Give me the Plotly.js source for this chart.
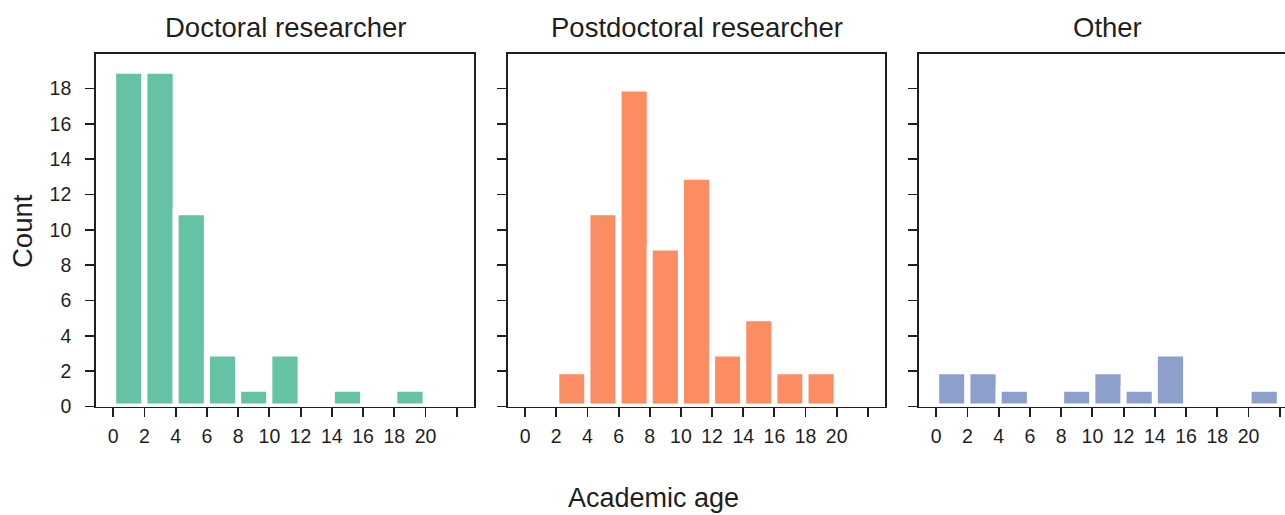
<!DOCTYPE html>
<html>
<head>
<meta charset="utf-8">
<script src="https://cdn.plot.ly/plotly-3.0.1.min.js"></script>
<style>
  html, body { margin: 0; padding: 0; background: #fff; overflow: hidden; }
  #chart { width: 1285px; height: 515px; }
</style>
</head>
<body>
<div id="chart"></div>
<script>
// ---- data ----
var panelTitles = ["Doctoral researcher", "Postdoctoral researcher", "Other"];
var binStarts = [0, 2, 4, 6, 8, 10, 12, 14, 16, 18, 20];
var binWidth = 2;
var doctoralCounts = [19, 19, 11, 3, 1, 3, 0, 1, 0, 1, 0];
var postdocCounts  = [0, 2, 11, 18, 9, 13, 3, 5, 2, 2, 0];
var otherCounts    = [2, 2, 1, 0, 1, 2, 1, 3, 0, 0, 1];
var xTickVals = [0, 2, 4, 6, 8, 10, 12, 14, 16, 18, 20, 22];
var xTickText = ["0", "2", "4", "6", "8", "10", "12", "14", "16", "18", "20", ""];
var yTickVals = [0, 2, 4, 6, 8, 10, 12, 14, 16, 18];
var colors = ["#66c2a5", "#fc8d62", "#8da0cb"];
var seriesCounts = [doctoralCounts, postdocCounts, otherCounts];

var W = 1285, H = 515;
var FONT = "Liberation Sans, Arial, sans-serif";
var INK = "#1f1f1f";

var traces = seriesCounts.map(function (counts, i) {
  var sfx = i === 0 ? "" : String(i + 1);
  return {
    type: "bar",
    x: binStarts.map(function (s) { return s + binWidth / 2; }),
    y: counts,
    width: binWidth,
    xaxis: "x" + sfx,
    yaxis: "y" + sfx,
    marker: { color: colors[i], line: { color: "#ffffff", width: 6 } },
    hoverinfo: "x+y",
    showlegend: false
  };
});

var px = function (v) { return v / W; };
var py = function (v) { return (H - v) / H; };

var yDomain = [py(406.5), py(54)];
var xDomains = [[px(96), px(474)], [px(508), px(885)], [px(919), 1]];
var unitPx = (474 - 96) / 24.2;
var xRanges = [[-1.1, 23.1], [-1.1, 23.1], [-1.1, -1.1 + (W - 919) / unitPx]];

var layout = {
  width: W, height: H,
  margin: { l: 0, r: 0, t: 0, b: 0 },
  paper_bgcolor: "#ffffff",
  plot_bgcolor: "#ffffff",
  font: { family: FONT, color: INK, size: 19.5 },
  bargap: 0,
  annotations: []
};

for (var i = 0; i < 3; i++) {
  var sfx = i === 0 ? "" : String(i + 1);
  layout["xaxis" + sfx] = {
    domain: xDomains[i],
    range: xRanges[i],
    anchor: "y" + sfx,
    tickmode: "array",
    tickvals: xTickVals,
    ticktext: xTickText,
    ticks: "outside",
    ticklen: 9,
    tickwidth: 1.8,
    tickcolor: INK,
    ticklabelstandoff: 2,
    showline: true,
    linecolor: INK,
    linewidth: 1.8,
    mirror: true,
    showgrid: false,
    zeroline: false,
    tickfont: { family: FONT, size: 19.5, color: INK },
    fixedrange: true
  };
  layout["yaxis" + sfx] = {
    domain: yDomain,
    range: [0, 19.95],
    anchor: "x" + sfx,
    tickmode: "array",
    tickvals: yTickVals,
    showticklabels: i === 0,
    ticks: "outside",
    ticklen: 9,
    tickwidth: 1.8,
    tickcolor: INK,
    ticklabelstandoff: 10,
    showline: true,
    linecolor: INK,
    linewidth: 1.8,
    mirror: i < 2,
    showgrid: false,
    zeroline: false,
    tickfont: { family: FONT, size: 19.5, color: INK },
    fixedrange: true
  };
  var centerPx = i < 2 ? (xDomains[i][0] + xDomains[i][1]) * W / 2 : (919 + 1296) / 2;
  layout.annotations.push({
    text: panelTitles[i],
    xref: "paper", yref: "paper",
    x: centerPx / W, y: py(27),
    xanchor: "center", yanchor: "middle",
    showarrow: false,
    font: { family: FONT, size: 27.5, color: INK }
  });
}

layout.annotations.push({
  text: "Academic age",
  xref: "paper", yref: "paper",
  x: px(653.5), y: py(498),
  xanchor: "center", yanchor: "middle",
  showarrow: false,
  font: { family: FONT, size: 27, color: INK }
});
layout.annotations.push({
  text: "Count",
  xref: "paper", yref: "paper",
  x: px(22), y: py(231),
  xanchor: "center", yanchor: "middle",
  textangle: -90,
  showarrow: false,
  font: { family: FONT, size: 27.5, color: INK }
});

Plotly.newPlot("chart", traces, layout, { displayModeBar: false, staticPlot: true });
</script>
</body>
</html>
